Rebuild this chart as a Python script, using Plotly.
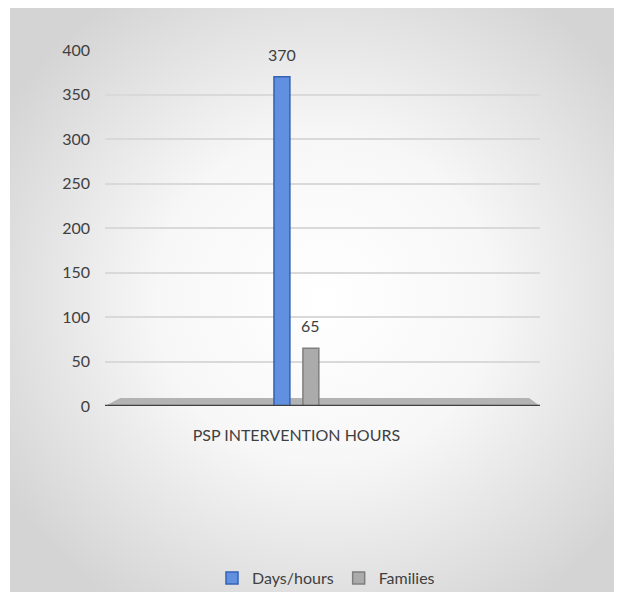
import base64
import plotly.graph_objects as go

categories = ["PSP INTERVENTION HOURS"]
series_names = ["Days/hours", "Families"]
days_hours = [370]
families = [65]
y_ticks = [0, 50, 100, 150, 200, 250, 300, 350, 400]

FONT = "Lato, 'Open Sans', sans-serif"
TXT = "#404040"

# radial gradient background as an SVG data URI
svg = """<svg xmlns='http://www.w3.org/2000/svg' width='604' height='586' viewBox='0 0 604 586'>
<defs><radialGradient id='g' cx='52%' cy='50%' r='62%'>
<stop offset='0%' stop-color='#ffffff'/><stop offset='45%' stop-color='#f7f7f7'/>
<stop offset='100%' stop-color='#d4d4d4'/></radialGradient></defs>
<rect width='604' height='586' fill='url(#g)'/></svg>"""
bg_uri = "data:image/svg+xml;base64," + base64.b64encode(svg.encode()).decode()

OFF = 8  # browser default body margin
W, H = 624 - OFF, 596 - OFF
L, T = 105 - OFF, 50 - OFF
pw, ph = 540 - 105, 406 - 50
R = W - L - pw
B = H - T - ph

def px_to_paper_x(px):
    return (px - 105) / pw

def px_to_paper_y(py):
    return (406 - py) / ph

fig = go.Figure()
fig.add_trace(go.Bar(
    name=series_names[0], x=categories, y=days_hours,
    marker=dict(color="#6290e0", line=dict(color="#3561b5", width=1.5)),
))
fig.add_trace(go.Bar(
    name=series_names[1], x=categories, y=families,
    marker=dict(color="#ababab", line=dict(color="#7f7f7f", width=1.5)),
))

# data labels above each bar, shifted to the bar's slot in the group
annotations = []
for series, xs in ((days_hours, -14.5), (families, 14.5)):
    for cat, val in zip(categories, series):
        annotations.append(dict(
            x=cat, y=val, xref="x", yref="y", text=str(val),
            showarrow=False, xanchor="center", yanchor="bottom",
            xshift=xs, yshift=11,
            font=dict(size=16, color=TXT, family=FONT)))

fig.update_layout(
    width=W, height=H,
    margin=dict(l=L, r=R, t=T, b=B, autoexpand=False),
    paper_bgcolor="white",
    plot_bgcolor="rgba(0,0,0,0)",
    barmode="group",
    bargap=0.867,
    bargroupgap=0.45,
    font=dict(family=FONT, size=16, color=TXT),
    showlegend=True,
    legend=dict(orientation="h", x=px_to_paper_x(326), y=px_to_paper_y(578),
                xanchor="center", yanchor="middle",
                font=dict(size=16, color=TXT, family=FONT),
                bgcolor="rgba(0,0,0,0)", itemwidth=30, traceorder="normal"),
    xaxis=dict(range=[-0.44, 0.56], showgrid=False, zeroline=False,
               showline=False, ticks="", ticklabelstandoff=18,
               tickfont=dict(size=16, color=TXT, family=FONT)),
    yaxis=dict(range=[0, 400], tickvals=y_ticks, showgrid=True,
               gridcolor="#d9d9d9", gridwidth=1.5, zeroline=False,
               showline=False, ticks="", ticklabelstandoff=14,
               tickfont=dict(size=16, color=TXT, family=FONT)),
    annotations=annotations,
    images=[dict(source=bg_uri, xref="paper", yref="paper",
                 x=px_to_paper_x(10), y=px_to_paper_y(6),
                 sizex=px_to_paper_x(614) - px_to_paper_x(10),
                 sizey=px_to_paper_y(6) - px_to_paper_y(592),
                 xanchor="left", yanchor="top", sizing="stretch",
                 layer="below")],
    shapes=[
        dict(type="path", xref="paper", yref="y",
             path="M 0,0 L 1,0 L 0.975,9 L 0.035,9 Z",
             fillcolor="#b3b3b3", line=dict(width=0), layer="below"),
        dict(type="line", xref="paper", yref="y", x0=0, x1=1, y0=0, y1=0,
             line=dict(color="#404040", width=2.5), layer="above"),
    ],
)

fig.write_html("out.html")
